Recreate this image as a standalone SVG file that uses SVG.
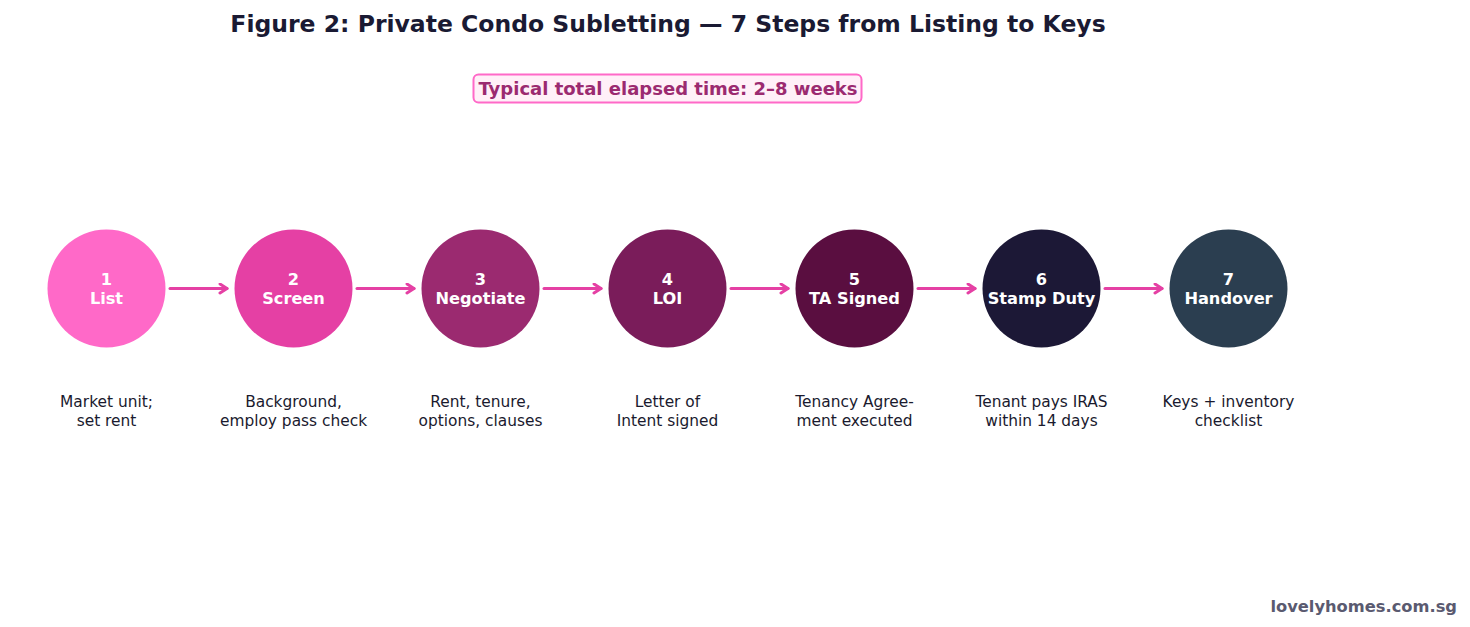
<svg xmlns="http://www.w3.org/2000/svg" width="1470" height="627" viewBox="0 0 1470 627">
<defs>
<marker id="ah" viewBox="-10 -6 12 12" refX="0" refY="0" markerWidth="12" markerHeight="12" orient="auto" markerUnits="userSpaceOnUse">
<path d="M-7,-4.5 L0,0 L-7,4.5" fill="none" stroke="#e540a4" stroke-width="3" stroke-linecap="round" stroke-linejoin="round"/>
</marker>
<style>
text{font-family:"DejaVu Sans","Liberation Sans",sans-serif;}
.title{font-size:23.5px;font-weight:bold;fill:#1a1a33;text-anchor:middle;}
.sub{font-size:18px;font-weight:bold;fill:#9b2a70;text-anchor:middle;}
.num{font-size:16.2px;font-weight:bold;fill:#ffffff;text-anchor:middle;}
.desc{font-size:15.4px;fill:#1a1a2e;text-anchor:middle;}
.wm{font-size:16.3px;font-weight:bold;fill:#5a5a70;text-anchor:end;}
.conn{stroke:#e540a4;stroke-width:3;fill:none;stroke-linecap:round;marker-end:url(#ah);}
</style>
</defs>
<rect width="1470" height="627" fill="#ffffff"/>
<text class="title" x="668" y="31.5">Figure 2: Private Condo Subletting — 7 Steps from Listing to Keys</text>
<g id="subtitle">
<rect x="473.5" y="74.5" width="388" height="28" rx="5" fill="#fff0f8" stroke="#ff69c8" stroke-width="2"/>
<text class="sub" x="668" y="94.5">Typical total elapsed time: 2–8 weeks</text>
</g>
<g id="connectors">
<line class="conn" x1="170" y1="288.5" x2="227" y2="288.5"/>
<line class="conn" x1="357" y1="288.5" x2="414" y2="288.5"/>
<line class="conn" x1="544" y1="288.5" x2="601" y2="288.5"/>
<line class="conn" x1="731" y1="288.5" x2="788" y2="288.5"/>
<line class="conn" x1="918" y1="288.5" x2="975" y2="288.5"/>
<line class="conn" x1="1105" y1="288.5" x2="1162" y2="288.5"/>
</g>
<g id="step1">
<circle cx="106.5" cy="288.5" r="59" fill="#ff69c8"/>
<text class="num" x="106.5" y="284.5">1</text>
<text class="num" x="106.5" y="303.5">List</text>
<text class="desc" x="106.5" y="406.5">Market unit;</text>
<text class="desc" x="106.5" y="426">set rent</text>
</g>
<g id="step2">
<circle cx="293.5" cy="288.5" r="59" fill="#e540a4"/>
<text class="num" x="293.5" y="284.5">2</text>
<text class="num" x="293.5" y="303.5">Screen</text>
<text class="desc" x="293.5" y="406.5">Background,</text>
<text class="desc" x="293.5" y="426">employ pass check</text>
</g>
<g id="step3">
<circle cx="480.5" cy="288.5" r="59" fill="#9b2a70"/>
<text class="num" x="480.5" y="284.5">3</text>
<text class="num" x="480.5" y="303.5">Negotiate</text>
<text class="desc" x="480.5" y="406.5">Rent, tenure,</text>
<text class="desc" x="480.5" y="426">options, clauses</text>
</g>
<g id="step4">
<circle cx="667.5" cy="288.5" r="59" fill="#7a1c5a"/>
<text class="num" x="667.5" y="284.5">4</text>
<text class="num" x="667.5" y="303.5">LOI</text>
<text class="desc" x="667.5" y="406.5">Letter of</text>
<text class="desc" x="667.5" y="426">Intent signed</text>
</g>
<g id="step5">
<circle cx="854.5" cy="288.5" r="59" fill="#5a0e40"/>
<text class="num" x="854.5" y="284.5">5</text>
<text class="num" x="854.5" y="303.5">TA Signed</text>
<text class="desc" x="854.5" y="406.5">Tenancy Agree-</text>
<text class="desc" x="854.5" y="426">ment executed</text>
</g>
<g id="step6">
<circle cx="1041.5" cy="288.5" r="59" fill="#1c1836"/>
<text class="num" x="1041.5" y="284.5">6</text>
<text class="num" x="1041.5" y="303.5">Stamp Duty</text>
<text class="desc" x="1041.5" y="406.5">Tenant pays IRAS</text>
<text class="desc" x="1041.5" y="426">within 14 days</text>
</g>
<g id="step7">
<circle cx="1228.5" cy="288.5" r="59" fill="#2b3e50"/>
<text class="num" x="1228.5" y="284.5">7</text>
<text class="num" x="1228.5" y="303.5">Handover</text>
<text class="desc" x="1228.5" y="406.5">Keys + inventory</text>
<text class="desc" x="1228.5" y="426">checklist</text>
</g>
<text class="wm" x="1457" y="612">lovelyhomes.com.sg</text>
</svg>
